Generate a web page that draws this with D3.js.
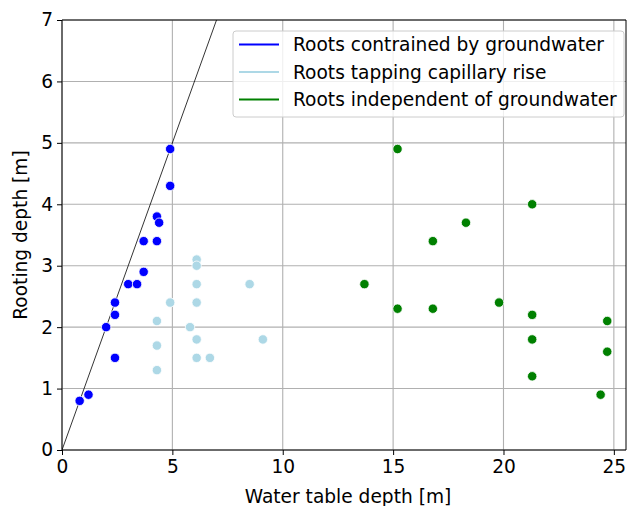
<!DOCTYPE html>
<html lang="en">
<head>
  <meta charset="UTF-8">
  <title>Rooting depth vs water table depth</title>
  <script src="https://d3js.org/d3.v7.min.js"></script>
  <style>
    body { margin: 0; background: #fff; }
    text { font-family: "DejaVu Sans", sans-serif; fill: #000; }
  </style>
</head>
<body>
  <div id="chart"></div>
  <script>
    // data: [water table depth, rooting depth]
    const constrained = [
      [4.9, 4.9], [4.9, 4.3], [4.3, 3.8], [4.4, 3.7], [3.7, 3.4], [4.3, 3.4],
      [3.7, 2.9], [3.0, 2.7], [3.4, 2.7], [2.4, 2.4], [2.4, 2.2], [2.0, 2.0],
      [2.4, 1.5], [0.8, 0.8], [1.2, 0.9]
    ]
    const capillary = [
      [4.3, 2.1], [4.3, 1.7], [4.3, 1.3], [4.9, 2.4], [5.8, 2.0], [6.1, 3.1],
      [6.1, 3.0], [6.1, 2.7], [6.1, 2.4], [6.1, 1.8], [6.1, 1.5], [6.7, 1.5],
      [8.5, 2.7], [9.1, 1.8]
    ]
    const independent = [
      [15.2, 4.9], [21.3, 4.0], [18.3, 3.7], [16.8, 3.4], [13.7, 2.7], [15.2, 2.3],
      [16.8, 2.3], [19.8, 2.4], [21.3, 2.2], [24.7, 2.1], [21.3, 1.8], [24.7, 1.6],
      [21.3, 1.2], [24.4, 0.9]
    ]
    const seriesNames = ["Roots contrained by groundwater", "Roots tapping capillary rise", "Roots independent of groundwater"]
    const seriesColors = ["blue", "lightblue", "green"]
    const xTicks = [0, 5, 10, 15, 20, 25]
    const yTicks = [0, 1, 2, 3, 4, 5, 6, 7]
    const oneToOne = [[0, 0], [8, 8]]

    const width = 627, height = 506
    const margin = {top: 20, right: 1, bottom: 56, left: 62}
    const w = width - margin.left - margin.right
    const h = height - margin.top - margin.bottom
    const fs = "18.6px"

    const svg = d3.select("#chart").append("svg")
      .attr("width", width)
      .attr("height", height)

    const g = svg.append("g")
      .attr("transform", "translate(" + margin.left + "," + margin.top + ")")

    const x = d3.scaleLinear().domain([0, 25.55]).range([0, w])
    const y = d3.scaleLinear().domain([0, 7]).range([h, 0])

    g.append("clipPath").attr("id", "clip")
      .append("rect").attr("width", w).attr("height", h)

    // grid
    g.append("g").selectAll("line").data(xTicks).join("line")
      .attr("x1", d => x(d)).attr("x2", d => x(d))
      .attr("y1", 0).attr("y2", h)
      .attr("stroke", "#b0b0b0").attr("stroke-width", 1.1)
    g.append("g").selectAll("line").data(yTicks).join("line")
      .attr("x1", 0).attr("x2", w)
      .attr("y1", d => y(d)).attr("y2", d => y(d))
      .attr("stroke", "#b0b0b0").attr("stroke-width", 1.1)

    // 1:1 line
    g.append("path")
      .datum(oneToOne)
      .attr("clip-path", "url(#clip)")
      .attr("d", d3.line().x(d => x(d[0])).y(d => y(d[1])))
      .attr("fill", "none")
      .attr("stroke", "black")
      .attr("stroke-width", 0.8)

    // points
    const groups = [constrained, capillary, independent]
    groups.forEach((data, i) => {
      g.append("g").selectAll("circle").data(data).join("circle")
        .attr("cx", d => x(d[0]))
        .attr("cy", d => y(d[1]))
        .attr("r", 4.7)
        .attr("fill", seriesColors[i])
        .attr("stroke", "white")
        .attr("stroke-width", 0.8)
    })

    // axes
    const xAxis = g.append("g")
      .attr("transform", "translate(0," + h + ")")
      .call(d3.axisBottom(x).tickValues(xTicks).tickFormat(d3.format("d")).tickSize(5).tickPadding(3))
    const yAxis = g.append("g")
      .call(d3.axisLeft(y).tickValues(yTicks).tickFormat(d3.format("d")).tickSize(5).tickPadding(4))
    ;[xAxis, yAxis].forEach(a => {
      a.selectAll("text").style("font-family", "DejaVu Sans").style("font-size", fs).attr("fill", "#000")
      a.selectAll("line").attr("stroke", "#000").attr("stroke-width", 1)
      a.select(".domain").remove()
    })
    xAxis.selectAll("text").attr("dy", "0.78em")

    // spines
    g.append("line").attr("x1", 0).attr("x2", 0).attr("y1", 0).attr("y2", h).attr("stroke", "#000")
    g.append("line").attr("x1", 0).attr("x2", w).attr("y1", h).attr("y2", h).attr("stroke", "#000")
    g.append("line").attr("x1", 0).attr("x2", w).attr("y1", 0).attr("y2", 0).attr("stroke", "#000")
    g.append("line").attr("x1", w).attr("x2", w).attr("y1", 0).attr("y2", h).attr("stroke", "#000")

    // labels
    svg.append("text")
      .attr("x", margin.left + w / 2 + 4)
      .attr("y", 503)
      .attr("text-anchor", "middle")
      .style("font-size", fs)
      .text("Water table depth [m]")
    svg.append("text")
      .attr("transform", "translate(27," + (margin.top + h / 2) + ") rotate(-90)")
      .attr("text-anchor", "middle")
      .style("font-size", fs)
      .text("Rooting depth [m]")

    // legend
    const lg = svg.append("g").attr("transform", "translate(233,31)")
    lg.append("rect")
      .attr("width", 391).attr("height", 86).attr("rx", 3)
      .attr("fill", "white").attr("fill-opacity", 0.8)
      .attr("stroke", "#ccc").attr("stroke-width", 1)
    seriesNames.forEach((name, i) => {
      const row = lg.append("g").attr("transform", "translate(0," + (13.5 + i * 27.5) + ")")
      row.append("line").attr("x1", 6).attr("x2", 46)
        .attr("stroke", seriesColors[i]).attr("stroke-width", 2.2)
      row.append("text").attr("x", 60).attr("dy", "0.36em")
        .style("font-size", fs).text(name)
    })
  </script>
</body>
</html>
